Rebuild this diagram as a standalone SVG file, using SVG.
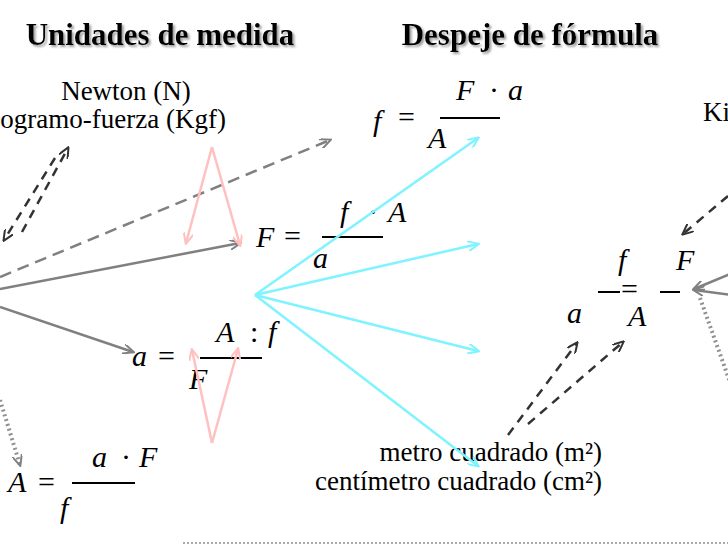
<svg xmlns="http://www.w3.org/2000/svg" width="728" height="546" viewBox="0 0 728 546">
<defs>
<style>
.title{font-family:"Liberation Serif",serif;font-weight:bold;font-size:31px;fill:#000;filter:url(#sh)}
.lbl{font-family:"Liberation Serif",serif;font-size:27px;fill:#000}
.m{font-family:"Liberation Serif",serif;font-style:italic;font-size:30px;fill:#000}
.op{font-family:"Liberation Serif",serif;font-size:30px;fill:#000}
.bar{stroke:#000;stroke-width:2}
.g{stroke:#808080;stroke-width:2.5;fill:none}
.gd{stroke:#808080;stroke-width:2.5;fill:none;stroke-dasharray:12 7}
.gh{stroke:#909090;stroke-width:4;fill:none;stroke-dasharray:2 3}
.kd{stroke:#333;stroke-width:2.5;fill:none;stroke-dasharray:9 7}
.c{stroke:#7ff3ff;stroke-width:2.5;fill:none}
.p{stroke:#ffc0c0;stroke-width:2.5;fill:none}
</style>
<filter id="sh" x="-5%" y="-20%" width="110%" height="150%">
<feDropShadow dx="2" dy="2" stdDeviation="1" flood-color="#888" flood-opacity="0.8"/>
</filter>
<marker id="ag" markerWidth="12" markerHeight="10" refX="10" refY="5" orient="auto" markerUnits="userSpaceOnUse"><path d="M0,0 L11,5 L0,10" fill="none" stroke="#808080" stroke-width="2"/></marker>
<marker id="ak" markerWidth="12" markerHeight="10" refX="10" refY="5" orient="auto" markerUnits="userSpaceOnUse"><path d="M0,0 L11,5 L0,10" fill="none" stroke="#333" stroke-width="2"/></marker>
<marker id="ac" markerWidth="12" markerHeight="10" refX="10" refY="5" orient="auto" markerUnits="userSpaceOnUse"><path d="M0,0 L11,5 L0,10" fill="none" stroke="#7ff3ff" stroke-width="2"/></marker>
<marker id="ap" markerWidth="12" markerHeight="10" refX="10" refY="5" orient="auto" markerUnits="userSpaceOnUse"><path d="M0,0 L11,5 L0,10" fill="none" stroke="#ffc0c0" stroke-width="2"/></marker>
</defs>
<rect width="728" height="546" fill="#fff"/>

<g id="titles">
<text class="title" x="160" y="45" text-anchor="middle">Unidades de medida</text>
<text class="title" x="530" y="45" text-anchor="middle">Despeje de fórmula</text>
</g>

<g id="units-force">
<text class="lbl" x="126" y="100" text-anchor="middle">Newton (N)</text>
<text class="lbl" x="226" y="128" text-anchor="end">Kilogramo-fuerza (Kgf)</text>
</g>
<g id="units-force-right">
<text class="lbl" x="703" y="121">Kilogramo-fuerza (Kgf)</text>
</g>
<g id="units-area">
<text class="lbl" x="602" y="461" text-anchor="end">metro cuadrado (m²)</text>
<text class="lbl" x="602" y="490" text-anchor="end">centímetro cuadrado (cm²)</text>
</g>

<g id="formula-f">
<text class="m" x="373" y="131">f</text>
<text class="op" x="398" y="127">=</text>
<line class="bar" x1="440" y1="118" x2="500" y2="118"/>
<text class="m" x="456" y="100">F</text>
<text class="op" x="489" y="100">·</text>
<text class="m" x="508" y="100">a</text>
<text class="m" x="428" y="148">A</text>
</g>

<g id="formula-F">
<text class="m" x="256" y="247">F</text>
<text class="op" x="284" y="246">=</text>
<line class="bar" x1="322" y1="237" x2="383" y2="237"/>
<text class="m" x="340" y="222">f</text>
<text class="op" x="368" y="222">·</text>
<text class="m" x="388" y="222">A</text>
<text class="m" x="313" y="268">a</text>
</g>

<g id="formula-a">
<text class="m" x="132" y="366">a</text>
<text class="op" x="158" y="366">=</text>
<line class="bar" x1="200" y1="358" x2="262" y2="358"/>
<text class="m" x="216" y="342">A</text>
<text class="op" x="250" y="342">:</text>
<text class="m" x="268" y="342">f</text>
<text class="m" x="189" y="389">F</text>
</g>

<g id="formula-A">
<text class="m" x="8" y="492">A</text>
<text class="op" x="38" y="492">=</text>
<line class="bar" x1="72" y1="483" x2="135" y2="483"/>
<text class="m" x="92" y="467">a</text>
<text class="op" x="121" y="467">·</text>
<text class="m" x="139" y="467">F</text>
<text class="m" x="60" y="518">f</text>
</g>

<g id="formula-ratio">
<line class="bar" x1="598" y1="292" x2="620" y2="292"/>
<text class="m" x="618" y="270">f</text>
<text class="m" x="567" y="323">a</text>
<text class="op" x="621" y="299">=</text>
<line class="bar" x1="660" y1="292" x2="680" y2="292"/>
<text class="m" x="676" y="270">F</text>
<text class="m" x="628" y="326">A</text>
</g>

<g id="connectors">
<line class="gd" x1="0" y1="277" x2="330" y2="140" marker-end="url(#ag)"/>
<line class="g" x1="0" y1="289" x2="240" y2="243" marker-end="url(#ag)"/>
<line class="g" x1="0" y1="307" x2="133" y2="352" marker-end="url(#ag)"/>
<line class="gh" x1="0" y1="400" x2="20" y2="465" marker-end="url(#ag)"/>
<line class="kd" x1="55" y1="158" x2="4" y2="240" marker-end="url(#ak)"/>
<line class="kd" x1="22" y1="232" x2="68" y2="148" marker-end="url(#ak)"/>
<line class="p" x1="212" y1="147" x2="186" y2="243" marker-end="url(#ap)"/>
<line class="p" x1="212" y1="147" x2="240" y2="245" marker-end="url(#ap)"/>
<line class="p" x1="212" y1="443" x2="192" y2="350" marker-end="url(#ap)"/>
<line class="p" x1="212" y1="443" x2="238" y2="349" marker-end="url(#ap)"/>
<line class="c" x1="255" y1="295" x2="478" y2="138" marker-end="url(#ac)"/>
<line class="c" x1="255" y1="295" x2="478" y2="244" marker-end="url(#ac)"/>
<line class="c" x1="255" y1="295" x2="478" y2="351" marker-end="url(#ac)"/>
<line class="c" x1="255" y1="295" x2="478" y2="466" marker-end="url(#ac)"/>
<line class="kd" x1="508" y1="435" x2="577" y2="343" marker-end="url(#ak)"/>
<line class="kd" x1="528" y1="424" x2="623" y2="342" marker-end="url(#ak)"/>
<line class="kd" x1="728" y1="196" x2="683" y2="234" marker-end="url(#ak)"/>
<line class="g" x1="740" y1="270" x2="694" y2="289" marker-end="url(#ag)"/>
<line class="g" x1="740" y1="296" x2="694" y2="290" marker-end="url(#ag)"/>
<line class="gh" x1="700" y1="298" x2="740" y2="410"/>
<line x1="183" y1="543" x2="728" y2="543" stroke="#aaa" stroke-width="2" stroke-dasharray="2 2"/>
</g>
</svg>
